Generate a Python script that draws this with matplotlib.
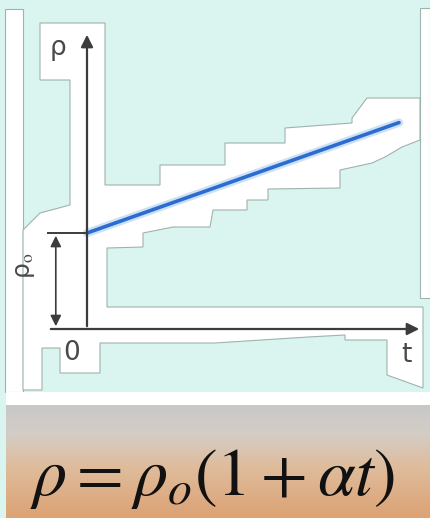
import numpy as np
import matplotlib
matplotlib.use('Agg')
import matplotlib.pyplot as plt
from matplotlib.colors import LinearSegmentedColormap
from matplotlib.patches import Polygon, Rectangle

plt.rcParams['mathtext.fontset'] = 'stix'

# --dati--
t = [0, 100]            # tempo
rho = [1.0, 2.15]       # resistivita: rho0 all'inizio, poi cresce linearmente
rho0 = rho[0]
formula = r'$\rho = \rho_o(1+\alpha t)$'

W, H = 430, 518
fig = plt.figure(figsize=(W / 100, H / 100), dpi=100)
fig.patch.set_facecolor('#daf4ef')

# --sfondo (coordinate in pixel)--
bg = fig.add_axes([0, 0, 1, 1])
bg.set_xlim(0, W)
bg.set_ylim(H, 0)
bg.axis('off')
bg.set_facecolor('#daf4ef')

edge = '#9fb3ae'
bg.add_patch(Rectangle((5, 9), 18, 383, fc='white', ec=edge, lw=0.8))
bg.add_patch(Rectangle((420, 8), 10, 290, fc='white', ec=edge, lw=0.8))
zona = [(40, 23), (105, 23), (105, 185), (160, 185), (160, 165), (225, 165), (225, 143),
        (285, 143), (285, 128), (352, 123), (352, 118), (367, 98), (420, 98), (420, 140),
        (402, 147), (385, 157), (372, 163), (340, 170), (340, 188), (268, 189), (268, 200),
        (247, 200), (247, 210), (213, 210), (210, 227), (173, 227), (143, 233), (143, 247),
        (107, 248), (107, 307), (423, 307), (423, 388), (387, 375), (387, 340), (345, 340),
        (345, 335), (308, 337), (215, 343), (100, 343), (100, 373), (60, 373), (60, 348),
        (42, 348), (42, 390), (23, 390), (23, 230), (40, 213), (70, 205), (70, 80), (40, 80)]
bg.add_patch(Polygon(zona, closed=True, fc='white', ec=edge, lw=0.8))
bg.add_patch(Rectangle((6, 392), W - 6, 13, fc='white', ec='none'))

# sfumatura in basso
cmap = LinearSegmentedColormap.from_list('sabbia', [(0, '#c8c8c8'), (0.25, '#d4cdc6'),
                                                   (0.55, '#dfbc9c'), (1, '#dca274')])
grad = np.linspace(0, 1, 200).reshape(-1, 1)
bg.imshow(grad, cmap=cmap, aspect='auto', extent=[6, W, H, 405], zorder=1)
bg.text(212, 478, formula, fontsize=49, ha='center', va='center', color='#111', zorder=3)

# --grafico--
x0, y0 = 87, 329        # origine in pixel
sx, sy = 3.12, 96       # pixel per unita
ax = fig.add_axes([x0 / W, (H - y0) / H, (422 - x0) / W, (y0 - 32) / H])
ax.set_xlim(0, (422 - x0) / sx)
ax.set_ylim(0, (y0 - 32) / sy)
ax.axis('off')
ax.patch.set_alpha(0)

grigio = '#3c3c3c'
xmax = (422 - x0) / sx
ymax = (y0 - 32) / sy
ax.annotate('', xy=(xmax, 0), xytext=(-12.5, 0), annotation_clip=False,
            arrowprops=dict(arrowstyle='-|>', color=grigio, lw=1.6, mutation_scale=18))
ax.annotate('', xy=(0, ymax), xytext=(0, 0), annotation_clip=False,
            arrowprops=dict(arrowstyle='-|>', color=grigio, lw=1.6, mutation_scale=18))

# retta rho(t)
ax.plot(t, rho, color='#9cc3ee', lw=6, alpha=0.5, solid_capstyle='round', clip_on=False)
ax.plot(t, rho, color='#2b6cd0', lw=2.6, solid_capstyle='round', clip_on=False)

# quota rho0
ax.plot([-12.5, 0], [rho0, rho0], color=grigio, lw=1.4, clip_on=False)
ax.annotate('', xy=(-10, rho0), xytext=(-10, 0), annotation_clip=False,
            arrowprops=dict(arrowstyle='<|-|>', color=grigio, lw=1.2, mutation_scale=16))

# etichette
bg.text(58, 48, 'ρ', fontsize=19, color='#4a4a4a', ha='center', va='center')
bg.text(72, 353, '0', fontsize=19, color='#4a4a4a', ha='center', va='center')
bg.text(406, 355, 't', fontsize=19, color='#4a4a4a', ha='center', va='center')
bg.text(25, 266, 'ρ$_\\mathrm{o}$', fontsize=18, color='#4a4a4a', ha='center', va='center',
        rotation=90)

fig.savefig('out.png', dpi=100)
